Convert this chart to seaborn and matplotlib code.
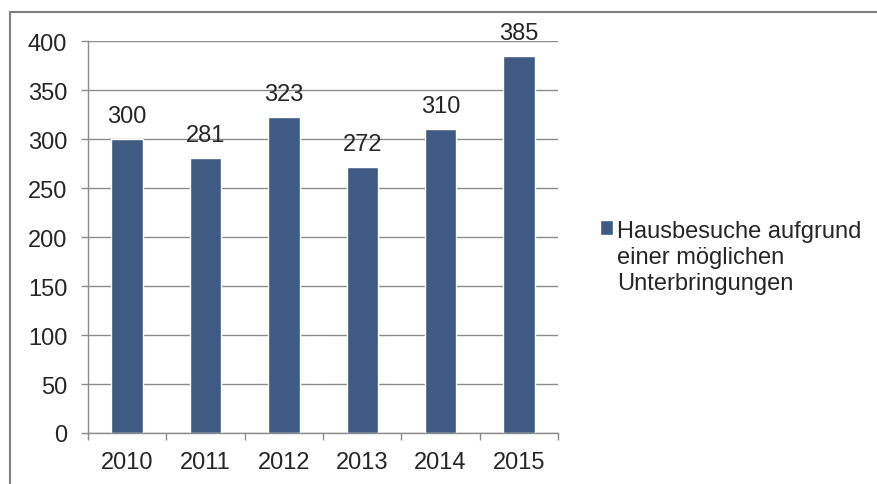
import pandas as pd
import numpy as np
import matplotlib
matplotlib.use("Agg")
import matplotlib.pyplot as plt
import seaborn as sns
from matplotlib.lines import Line2D

# Chart data
years = ["2010", "2011", "2012", "2013", "2014", "2015"]
visits = [300, 281, 323, 272, 310, 385]
series_name = "Hausbesuche aufgrund\neiner möglichen\nUnterbringungen"

df = pd.DataFrame({"Jahr": years, "Anzahl": visits, "Serie": series_name})

sns.set_style("white")
plt.rcParams["font.family"] = ["Liberation Sans", "DejaVu Sans"]

W, H = 878, 485
fig = plt.figure(figsize=(W / 100, H / 100), dpi=100)
ax = fig.add_axes([88 / W, 1 - 434 / H, (558 - 88) / W, (434 - 42.3) / H])

bar_color = "#3F5A83"
grid_color = "#8C8C8C"
fs = 17

sns.barplot(data=df, x="Jahr", y="Anzahl", hue="Serie", palette=[bar_color],
            width=0.4, dodge=False, ax=ax, saturation=1)

ax.set_ylim(0, 400)
ax.set_xlim(-0.5, 5.5)
ax.set_yticks(np.arange(0, 401, 50))
ax.yaxis.grid(True, color=grid_color, linewidth=1)
ax.set_axisbelow(True)
ax.set_xlabel("")
ax.set_ylabel("")

for side in ["top", "right"]:
    ax.spines[side].set_visible(False)
for side in ["left", "bottom"]:
    ax.spines[side].set_color(grid_color)
    ax.spines[side].set_linewidth(1)

# x ticks at category boundaries
ax.set_xticks(np.arange(-0.5, 6, 1), minor=True)
ax.tick_params(axis="x", which="major", bottom=False, length=0, pad=13, labelsize=fs)
ax.tick_params(axis="x", which="minor", bottom=True, length=5, width=1,
               color=grid_color, direction="out")
ax.tick_params(axis="y", left=True, length=5, width=1, color=grid_color,
               direction="out", pad=10, labelsize=fs)

for c in ax.containers:
    ax.bar_label(c, labels=[str(v) for v in visits], padding=8.6, fontsize=fs)

leg = ax.legend(loc="upper left", bbox_to_anchor=(600 / W, 1 - 221 / H),
                bbox_transform=fig.transFigure, frameon=False, fontsize=fs,
                handlelength=0.57, handleheight=0.57, handletextpad=0.17,
                borderpad=0, borderaxespad=0)
for t in leg.get_texts():
    t.set_linespacing(1.25)
# put the square next to the first line
for col in leg._legend_handle_box.get_children():
    for row in col.get_children():
        row.align = "top"

# outer chart frame (partly cut off)
fig.add_artist(Line2D([10 / W, 1], [1 - 13 / H, 1 - 13 / H], color="#808080", linewidth=1.5))
fig.add_artist(Line2D([10 / W, 10 / W], [0, 1 - 13 / H], color="#808080", linewidth=1.5))

fig.savefig("out.png", dpi=100)
